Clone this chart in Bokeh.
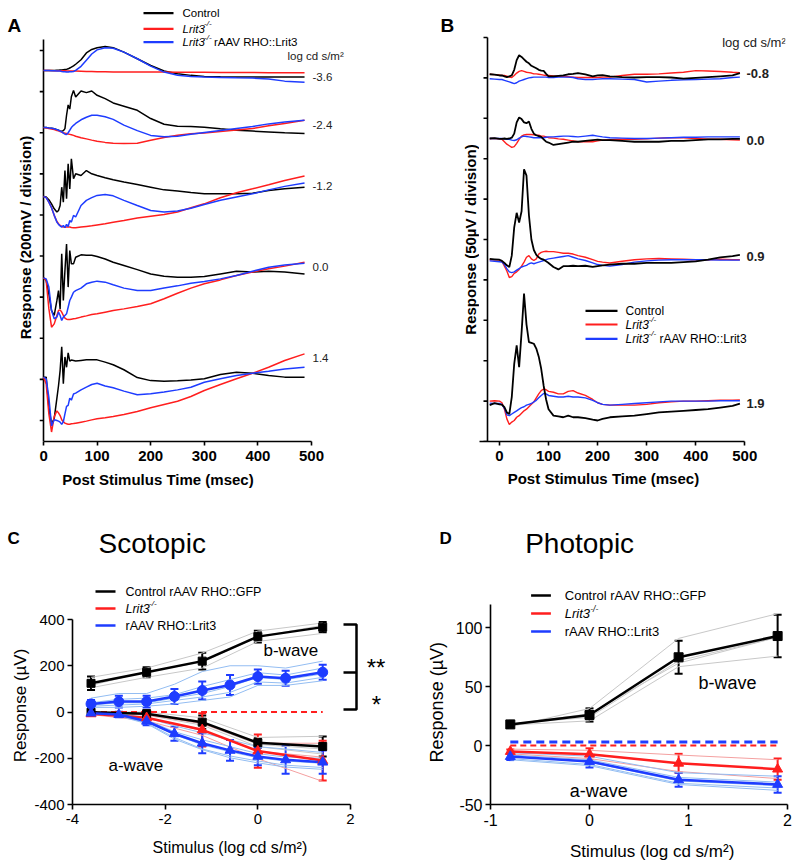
import numpy as np
from math import pi
from bokeh.plotting import figure
from bokeh.layouts import column, row
from bokeh.models import Range1d, FixedTicker, Whisker, ColumnDataSource, TeeHead
from bokeh.core.properties import value
from bokeh.embed import file_html
from bokeh.resources import INLINE

FONT = "Liberation Sans"
BLACK = "#000000"
RED = "#ff1e1e"
BLUE = "#1e3cff"
LGRAY = "#c8c8c8"
LBLUE = "#93bdf2"
LRED = "#f4a0a0"

# ---------------- Panel A: scotopic ERG traces (uV relative to each trace baseline) ----------------
A_time = [0, 5, 10, 15, 20, 25, 28, 31, 34, 37, 40, 43, 46, 49, 52, 56, 60, 70, 80, 90, 100, 115, 130,
          150, 175, 200, 225, 250, 275, 300, 330, 360, 390, 420, 450, 487]
A_levels = ["-3.6", "-2.4", "-1.2", "0.0", "1.4"]
A_baseline = [1703, 1425, 1090, 694, 209]
A_yticks = [0, 200, 400, 600, 800, 1000, 1200, 1400, 1600, 1800]
A_xticks = [0, 100, 200, 300, 400, 500]

A_ctrl_m36 = [0, 0, 0, 0, 0, 1, 1, 2, 2, 3, 4, 5, 8, 12, 16, 22, 30, 52, 85, 102, 110, 116, 111, 89, 57, 24, -3, -16, -24, -29, -31, -32, -32, -32, -32, -32]
A_lrit_m36 = [0, 0, 0, 0, -1, -1, -1, -2, -2, -2, -2, -3, -3, -3, -3, -3, -3, -4, -5, -5, -6, -6, -7, -7, -8, -8, -8, -9, -9, -9, -10, -10, -10, -11, -11, -11]
A_raav_m36 = [0, 0, 0, -2, -2, -3, -3, -3, -5, -6, -6, -8, -8, -6, -6, -5, 0, 20, 50, 80, 100, 110, 108, 89, 57, 21, -8, -23, -29, -32, -34, -36, -37, -42, -52, -57]

A_ctrl_m24 = [0, 0, -2, -3, -6, -10, -13, -16, -18, -15, -5, 60, 110, 90, 150, 181, 149, 178, 170, 178, 157, 141, 120, 104, 84, 44, 16, 6, 5, 2, -6, -13, -17, -21, -25, -29]
A_lrit_m24 = [0, -2, -4, -7, -10, -14, -16, -19, -22, -25, -27, -29, -31, -33, -35, -38, -42, -49, -55, -61, -66, -72, -76, -78, -76, -62, -48, -37, -30, -26, -19, -12, -5, 9, 20, 36]
A_raav_m24 = [0, 0, -2, -3, -6, -10, -13, -17, -21, -27, -32, -34, -25, -13, 0, 11, 20, 38, 50, 60, 60, 53, 40, 12, -15, -38, -45, -42, -33, -24, -14, -4, 5, 18, 27, 36]

A_ctrl_m12 = [0, -3, -16, -36, -60, -76, -68, -44, 45, -28, 126, -11, 159, 37, 183, 86, 110, 102, 126, 110, 102, 91, 81, 70, 58, 45, 32, 26, 19, 13, 13, 13, 16, 29, 37, 45]
A_lrit_m12 = [0, -6, -28, -55, -92, -122, -133, -141, -146, -149, -149, -149, -149, -149, -151, -152, -152, -149, -146, -143, -139, -133, -126, -117, -105, -96, -88, -76, -55, -36, -6, 18, 37, 57, 78, 99]
A_raav_m12 = [0, -6, -28, -55, -92, -125, -136, -143, -149, -141, -152, -136, -146, -117, -125, -92, -100, -44, -19, -6, 5, 10, 3, -19, -44, -68, -76, -71, -57, -39, -19, -3, 13, 32, 49, 65]

A_ctrl_0 = [0, -13, -78, -160, -183, -110, -62, -151, 117, -110, 36, 165, -45, 133, 68, 68, 100, 112, 110, 110, 104, 92, 76, 60, 40, 19, 8, 3, 3, 6, 19, 32, 28, 32, 28, 19]
A_lrit_0 = [0, -13, -150, -240, -224, -183, -159, -156, -167, -183, -196, -201, -203, -203, -201, -199, -198, -191, -185, -178, -175, -167, -159, -151, -139, -126, -102, -75, -50, -29, -10, 11, 28, 44, 57, 76]
A_raav_0 = [0, -5, -45, -159, -199, -191, -167, -183, -207, -191, -183, -175, -143, -110, -94, -70, -62, -50, -29, -21, -16, -21, -34, -50, -62, -62, -49, -39, -26, -18, -5, 11, 32, 52, 62, 71]

A_ctrl_14 = [2, 2, -144, -225, -200, -100, -40, 34, 150, -30, 100, 50, 120, 80, 85, 83, 80, 83, 86, 87, 86, 75, 62, 38, 0, -15, -18, -16, -12, -6, 15, 26, 21, 10, 2, 2]
A_lrit_14 = [2, -31, -177, -265, -190, -162, -172, -185, -205, -215, -222, -225, -227, -227, -225, -224, -222, -217, -212, -206, -201, -196, -190, -180, -165, -147, -131, -115, -92, -63, -34, -6, 21, 50, 83, 115]
A_raav_14 = [2, -6, -96, -235, -205, -209, -212, -217, -228, -215, -177, -140, -135, -100, -110, -80, -76, -60, -47, -34, -28, -41, -50, -66, -84, -79, -70, -60, -47, -23, -6, 10, 21, 31, 42, 50]

# ---------------- Panel B: photopic ERG traces (uV relative to each trace baseline) ----------------
B_time = [-20, -10, 0, 5, 10, 15, 20, 25, 30, 35, 40, 45, 50, 55, 60, 65, 70, 75, 80, 85, 90, 95, 100, 110,
          120, 130, 140, 150, 160, 175, 190, 200, 210, 225, 250, 275, 300, 325, 350, 375, 400, 425, 450, 475, 490]
B_levels = ["-0.8", "0.0", "0.9", "1.9"]
B_baseline = [452, 375, 225, 50]
B_yticks = [0, 50, 100, 150, 200, 250, 300, 350, 400, 450, 500]
B_xticks = [0, 100, 200, 300, 400, 500]

B_ctrl_m08 = [2.5, 2, 1, 1, 0, -1, 0, 1, 8, 20, 26, 24, 21, 18, 16, 13, 11.5, 10, 8, 7, 6.6, 3, 0, 0, 0.5, 1, 2.5, 3, 4, 2.5, 0, 1, 1.5, 0, -1, -1.5, -1, -1, -1.5, -3, -2, -1, 0, 1, 4]
B_lrit_m08 = [2.5, 2, 1.5, 1, 1, 0, -1, -1.5, 1, 4, 6, 7, 6, 5, 4.5, 4, 3, 3, 2.5, 2, 1.5, 1, 1, 0.5, 0, 0, -0.5, -1, -1.5, -1.5, -1.5, -1.5, -1, -1, 1, 2.5, 2.5, 3, 4, 5, 7, 6.5, 6, 5, 4.5]
B_raav_m08 = [-3, -3.5, -4, -4, -5, -6, -7, -8, -9, -8, -6, -5, -4, -3, -2, -1.5, -1, -1, -1, -1, -1, -1, -1.5, -1.5, -1, -1, -1, -1.5, -3, -4, -4, -3.5, -3, -3, -3.5, -4, -7, -6, -5, -4.5, -4, -3.5, -3, -1.5, -1]

B_ctrl_0 = [0, 0.5, -0.5, -0.5, 0, -0.5, 0, 1, 6, 20, 26, 24, 20, 19, 21, 12, 6, 4, 3, 2, -1, -4, -5, -8, -7, -6, -5, -4, -4, -3, -2, -1.5, -2, -2, -3, -4, -4, -4, -3, -3, -2, -1, -1, -0.5, -0.5]
B_lrit_0 = [0, 0, -0.5, -1, -4, -7, -9, -11, -10, -6, -1, 3, 4.5, 5, 5, 5, 4.5, 4, 4, 3, 3, 2, 1, 0.5, -0.5, -1, -2, -3, -4, -4, -4, -3, -2, -1.5, -1, -1, -0.5, 0.5, 1, 1, 0, -1, -1, -1.5, -2]
B_raav_0 = [0, 0, 0, 0, -0.5, -1, -1, -2, -2.5, -1.5, 0.5, 2, 3, 2.5, 2, 1.5, 1, 1, 1, 1, 1, 1.5, 2, 2, 2.5, 3, 3, 2.5, 2, 3, 4, 3, 2, 1, 0.5, 0, 0, 0.5, 1, 1.5, 1.5, 2, 2, 2, 2]

B_ctrl_09 = [1, 0.5, 0, -1.5, -4, -7, -9, 5, 40, 58, 46, 60, 112, 104, 55, 25, 12, 6, 3, 1, 0, -2, -4, -9, -12, -8, -8, -7.5, -8, -7.5, -9, -8, -7, -6, -5, -5, -4, -4, -4, -3, -2, 0, 3, 4.5, 6]
B_lrit_09 = [0, 0, -0.5, -2, -8, -14, -22, -21, -17, -15, -12, -8, -3, 3, 5, 1, -1, 1, 7, 9, 10, 10.5, 10, 10, 9, 8, 8, 7, 5, 3, 0, -2, -3, -4, -2, 0, 1, 1.5, 1, 0.5, 0, 0, 0.5, 0, 0]
B_raav_09 = [-1.5, -2, -2.5, -3, -6, -11, -15, -16, -15, -13, -11, -9, -8, -7, -5, -4, -5, -4, -3, -2, -1, 0, 1, 2, 3, 4, 5, 3, 1, -1, -4, -6, -7, -8, -6, -3, -1.5, -0.5, 0, 0, 0, 0, -0.5, -0.5, -0.5]

B_ctrl_19 = [-5, -2.5, -4, -4.5, -7.5, -14, -16, 5, 46, 69, 42, 85, 133, 95, 73, 72, 71, 65, 55, 40, 19, 2, -10, -18, -19, -20, -18, -20, -20, -21, -23, -24, -22, -20, -19, -18, -16, -14, -13, -12, -11, -10, -8, -6, -3]
B_lrit_19 = [0, 0.5, 0, -2, -10, -22, -29, -26, -24, -20, -18, -15, -12, -10, -7, -4, -1, 4, 9, 13, 15, 14, 12, 11, 9, 9, 12, 13, 10, 7, 2, -2, -4, -5, -5, -5, -4, -2, -1, 0, 0, 0.5, 1, 1, 1.5]
B_raav_19 = [-2.5, -3, -3, -4, -9, -17, -18, -16, -14, -12, -10, -8, -7, -5, -4, -3, -1, 1, 4, 7, 9.5, 9, 7, 6, 5, 5, 6, 5, 5, 4, 1, -2, -4, -5, -4, -3, -2, -1, 0, 0, 0, 0, 0.5, 0.5, 0.5]

# ---------------- Panel C: scotopic intensity-response ----------------
C_x5 = [-3.6, -2.4, -1.2, 0.0, 1.4]
C_x9 = [-3.6, -3.0, -2.4, -1.8, -1.2, -0.6, 0.0, 0.6, 1.4]
C_xticks = [-4, -2, 0, 2]
C_yticks = [-400, -200, 0, 200, 400]
C_ctrl_b = [124, 172, 220, 326, 367]
C_ctrl_b_sem = [29, 22, 36, 25, 22]
C_ctrl_a = [-1, -8, -44, -133, -149]
C_ctrl_a_sem = [5, 16, 29, 20, 43]
C_lrit_b = [0, 0, 0, 0, 0]
C_lrit_a = [-8, -25, -77, -169, -210]
C_lrit_a_sem = [4, 22, 72, 72, 86]
C_raav_b = [35, 45, 45, 67, 93, 117, 153, 146, 172]
C_raav_b_sem = [17, 25, 25, 32, 39, 43, 31, 32, 32]
C_raav_a = [-5, -11, -40, -94, -135, -166, -192, -207, -217]
C_raav_a_sem = [5, 12, 17, 30, 43, 45, 38, 60, 50]
C_ctrl_b_each = [[150, 190, 255, 350, 385], [115, 175, 215, 325, 375], [105, 150, 190, 305, 340]]
C_ctrl_a_each = [[0, 0, -25, -110, -105], [-1, -10, -50, -140, -160], [-2, -14, -57, -150, -182]]
C_lrit_a_each = [[-5, -12, -50, -135, -135], [-8, -25, -80, -170, -195], [-11, -38, -101, -202, -300]]
C_raav_b_each = [[60, 80, 80, 120, 175, 200, 200, 190, 220],
                 [40, 55, 60, 75, 110, 140, 170, 160, 190],
                 [30, 40, 40, 60, 80, 110, 150, 140, 165],
                 [25, 30, 35, 50, 65, 85, 130, 125, 150],
                 [20, 20, 25, 35, 50, 65, 115, 115, 135]]
C_raav_a_each = [[-2, -5, -25, -60, -90, -120, -150, -160, -175],
                 [-3, -8, -35, -85, -120, -150, -180, -195, -200],
                 [-5, -10, -42, -98, -142, -172, -198, -212, -222],
                 [-6, -14, -48, -110, -160, -190, -212, -230, -240],
                 [-9, -18, -50, -117, -163, -198, -220, -238, -248]]

# ---------------- Panel D: photopic intensity-response ----------------
D_x = [-0.8, 0.0, 0.9, 1.9]
D_xticks = [-1, 0, 1, 2]
D_yticks = [-50, 0, 50, 100]
D_ctrl_b = [18, 26, 75, 93]
D_ctrl_b_sem = [1, 5.6, 14, 18]
D_lrit_b = [0, 0, 0, 0]
D_raav_b = [3, 3, 3, 3]
D_lrit_a = [-5, -7.3, -15, -20]
D_lrit_a_sem = [1.7, 5, 8, 9]
D_raav_a = [-9.3, -13.5, -29, -33]
D_raav_a_sem = [3, 5, 6, 7]
D_ctrl_b_each = [[16, 31.5, 91, 112], [17.5, 21, 67, 76], [18, 27, 70, 92], [18.5, 24, 72, 92]]
D_lrit_a_each = [[-3, -4, -8, -12], [-5, -7, -15, -20], [-7, -11, -22, -28]]
D_raav_a_each = [[-6, -9, -23, -26], [-8, -12, -27, -31], [-9, -14, -30, -34], [-11, -16, -32, -36], [-12, -17, -33, -38]]


# ---------------- helpers ----------------
def lin(p0, v0, p1, v1):
    k = (v1 - v0) / (p1 - p0)
    return lambda px: v0 + (px - p0) * k


def make_fig(ox, oy, W, H, L, R, T, B, xv, yv, yaxis=True):
    kw = {} if yaxis else {"y_axis_location": None}
    p = figure(width=W, height=H, x_range=Range1d(xv(L), xv(R)), y_range=Range1d(yv(B), yv(T)),
               min_border_left=int(round(L - ox)), min_border_right=int(round(ox + W - R)),
               min_border_top=int(round(T - oy)), min_border_bottom=int(round(oy + H - B)),
               output_backend="svg", toolbar_location=None, title=None, **kw)
    p.outline_line_color = None
    p.grid.visible = False
    p.background_fill_color = "white"
    p.border_fill_color = "white"
    return p


def gutter(x0, x1, y0, y1):
    # blank strip whose data units are page pixels (y measured downward as negative values)
    g = figure(width=x1 - x0, height=y1 - y0, x_range=Range1d(x0, x1), y_range=Range1d(-y1, -y0),
               min_border_left=0, min_border_right=0, min_border_top=0, min_border_bottom=0,
               x_axis_location=None, y_axis_location=None,
               output_backend="svg", toolbar_location=None, title=None)
    g.outline_line_color = None
    g.grid.visible = False
    g.grid.grid_line_color = None
    g.background_fill_color = "white"
    g.border_fill_color = "white"
    return g


def style_axis(ax, ticks, bounds, size, bold, tick_out=4, standoff=4):
    ticks = list(ticks)
    ax.ticker = FixedTicker(ticks=ticks)
    ax.bounds = bounds
    ax.major_label_text_font = FONT
    ax.major_label_text_font_size = size
    ax.major_label_text_font_style = "bold" if bold else "normal"
    ax.major_label_text_color = "black"
    ax.major_label_standoff = standoff
    ax.major_label_overrides = {t: ("%g" % t) for t in ticks}
    ax.major_tick_out = tick_out
    ax.major_tick_in = 0
    ax.minor_tick_line_color = None
    ax.axis_line_width = 1.6
    ax.major_tick_line_width = 1.6
    ax.axis_line_color = "black"
    ax.major_tick_line_color = "black"


def txt(p, x, y, s, size, style="normal", align="left", baseline="middle", color="black", xo=0, yo=0, angle=0):
    p.text(x=[x], y=[y], text=[s], text_font=value(FONT), text_font_size=value(size),
           text_font_style=value(style), text_align=align, text_baseline=baseline,
           text_color=color, x_offset=xo, y_offset=yo, angle=angle)


def gtxt(g, x, y, s, size, style="normal", align="left", baseline="alphabetic", angle=0):
    txt(g, x, -y, s, size, style=style, align=align, baseline=baseline, angle=angle)


def errbars(p, x, m, e, color, head=8, lw=2):
    src = ColumnDataSource(dict(x=x, lo=[a - b for a, b in zip(m, e)], hi=[a + b for a, b in zip(m, e)]))
    p.add_layout(Whisker(source=src, base="x", lower="lo", upper="hi", line_color=color, line_width=lw,
                         lower_head=TeeHead(size=head, line_color=color, line_width=lw),
                         upper_head=TeeHead(size=head, line_color=color, line_width=lw)))


def legend_rows(p, xv, yv, x0, x1, xt, rows, size, lrit_w, sup_size, extra_w, lw=2):
    for ypx, col, kind in rows:
        p.line([xv(x0), xv(x1)], [yv(ypx), yv(ypx)], line_color=col, line_width=lw)
        X, Y = xv(xt), yv(ypx)
        if kind == "ctrl":
            txt(p, X, Y, "Control", size)
        elif kind == "ctrl_gfp":
            txt(p, X, Y, "Control rAAV RHO::GFP", size)
        elif kind == "raav":
            txt(p, X, Y, "rAAV RHO::Lrit3", size)
        else:
            txt(p, X, Y, "Lrit3", size, style="italic")
            txt(p, X, Y, "-/-", sup_size, style="italic", xo=lrit_w, yo=-5)
            if kind == "lrit_raav":
                txt(p, X, Y, "rAAV RHO::Lrit3", size, xo=extra_w)


def manual_yaxis(p, x_axis, x_tick_end, y0, y1, ticks):
    p.line([x_axis, x_axis], [y0, y1], line_color=BLACK, line_width=1.6)
    p.segment(x0=[x_axis] * len(ticks), y0=ticks, x1=[x_tick_end] * len(ticks), y1=ticks,
              line_color=BLACK, line_width=1.6)


# ================= Panel A =================
A_xv = lin(43, 0, 311, 500)
A_yv = lin(420, 0, 50, 1800)
pA = make_fig(39, 0, 361, 468, 39, 350, 0, 441, A_xv, A_yv, yaxis=False)
style_axis(pA.xaxis[0], A_xticks, (0, 500), "15px", True, tick_out=4, standoff=5)
manual_yaxis(pA, 0, A_xv(39), A_yv(441), A_yv(39), A_yticks)

tA = np.array(A_time, dtype=float)
A_ctrl = [A_ctrl_m36, A_ctrl_m24, A_ctrl_m12, A_ctrl_0, A_ctrl_14]
A_lrit = [A_lrit_m36, A_lrit_m24, A_lrit_m12, A_lrit_0, A_lrit_14]
A_raav = [A_raav_m36, A_raav_m24, A_raav_m12, A_raav_0, A_raav_14]
for base, c, r, b in zip(A_baseline, A_ctrl, A_lrit, A_raav):
    pA.line(tA, base + np.array(c, dtype=float), line_color=BLACK, line_width=1.5)
    pA.line(tA, base + np.array(r, dtype=float), line_color=RED, line_width=1.5)
    pA.line(tA, base + np.array(b, dtype=float), line_color=BLUE, line_width=1.5)

for lev, ypx in zip(A_levels, [76, 124, 185, 266.7, 357.7]):
    txt(pA, A_xv(312), A_yv(ypx), lev, "11.5px", color="#222222")
txt(pA, A_xv(287), A_yv(55.5), "log cd s/m\u00b2", "11.5px", color="#222222")
legend_rows(pA, A_xv, A_yv, 143, 173, 182,
            [(12.7, BLACK, "ctrl"), (28.3, RED, "lrit"), (41.7, BLUE, "lrit_raav")],
            "11.5px", 21.5, "8px", 31.5, lw=2.2)

gA = gutter(0, 39, 0, 488)
gtxt(gA, 7, 25, "A", "19px", "bold")
gtxt(gA, 25, 237, "Response (200mV / division)", "15px", "bold", "center", "middle", pi / 2)
gAx = gutter(39, 400, 468, 488)
gtxt(gAx, 176.5, 478.5, "Post Stimulus Time (msec)", "15px", "bold", "center", "middle")

# ================= Panel B =================
B_xv = lin(499, 0, 744.3, 500)
B_yv = lin(441, 0, 37, 500)
pB = make_fig(479, 0, 321, 468, 479, 785, 0, 441, B_xv, B_yv, yaxis=False)
style_axis(pB.xaxis[0], B_xticks, (B_xv(479), 500), "15px", True, tick_out=4, standoff=5)
manual_yaxis(pB, B_xv(487), B_xv(483), 0, 500, B_yticks)

tB = np.array(B_time, dtype=float)
B_ctrl = [B_ctrl_m08, B_ctrl_0, B_ctrl_09, B_ctrl_19]
B_lrit = [B_lrit_m08, B_lrit_0, B_lrit_09, B_lrit_19]
B_raav = [B_raav_m08, B_raav_0, B_raav_09, B_raav_19]
for base, c, r, b in zip(B_baseline, B_ctrl, B_lrit, B_raav):
    pB.line(tB, base + np.array(r, dtype=float), line_color=RED, line_width=1.4)
    pB.line(tB, base + np.array(b, dtype=float), line_color=BLUE, line_width=1.4)
    pB.line(tB, base + np.array(c, dtype=float), line_color=BLACK, line_width=1.8)

for lev, ypx in zip(B_levels, [73, 140, 256, 402.5]):
    txt(pB, B_xv(746), B_yv(ypx), lev, "13px", style="bold", color="#222222")
txt(pB, B_xv(721.7), B_yv(41.7), "log cd s/m\u00b2", "13px", color="#222222")
legend_rows(pB, B_xv, B_yv, 585, 617, 625,
            [(310.3, BLACK, "ctrl"), (324, RED, "lrit"), (338.3, BLUE, "lrit_raav")],
            "12px", 23, "8px", 34, lw=2.2)

gB = gutter(400, 479, 0, 488)
gtxt(gB, 440, 25, "B", "19px", "bold")
gtxt(gB, 469.5, 239, "Response (50\u00b5V / division)", "15px", "bold", "center", "middle", pi / 2)
gBx = gutter(479, 800, 468, 488)
gtxt(gBx, 609, 477.5, "Post Stimulus Time (msec)", "15px", "bold", "center", "middle")

# ================= Panel C =================
C_xv = lin(72, -4, 350, 2)
C_yv = lin(804, -400, 619, 400)
pC = make_fig(30, 488, 370, 345, 72, 392, 498, 804, C_xv, C_yv)
style_axis(pC.xaxis[0], C_xticks, (-4, 2), "15px", False, tick_out=5, standoff=4)
style_axis(pC.yaxis[0], C_yticks, (-400, 400), "15px", False, tick_out=5, standoff=3)

for ys in C_ctrl_b_each + C_ctrl_a_each:
    pC.line(C_x5, ys, line_color=LGRAY, line_width=1)
for ys in C_lrit_a_each:
    pC.line(C_x5, ys, line_color=LRED, line_width=1)
for ys in C_raav_b_each + C_raav_a_each:
    pC.line(C_x9, ys, line_color=LBLUE, line_width=1)
pC.line(C_x5, C_lrit_b, line_color=RED, line_width=2, line_dash="6 4")

pC.line(C_x5, C_ctrl_b, line_color=BLACK, line_width=2.5)
pC.line(C_x5, C_ctrl_a, line_color=BLACK, line_width=2.5)
pC.line(C_x5, C_lrit_a, line_color=RED, line_width=2.5)
pC.line(C_x9, C_raav_b, line_color=BLUE, line_width=2.5)
pC.line(C_x9, C_raav_a, line_color=BLUE, line_width=2.5)
errbars(pC, C_x5, C_ctrl_b, C_ctrl_b_sem, BLACK)
errbars(pC, C_x5, C_ctrl_a, C_ctrl_a_sem, BLACK)
errbars(pC, C_x5, C_lrit_a, C_lrit_a_sem, RED)
errbars(pC, C_x9, C_raav_b, C_raav_b_sem, BLUE)
errbars(pC, C_x9, C_raav_a, C_raav_a_sem, BLUE)
pC.scatter(C_x5, C_ctrl_b, marker="square", size=8, color=BLACK)
pC.scatter(C_x5, C_ctrl_a, marker="square", size=8, color=BLACK)
pC.scatter(C_x5, C_lrit_a, marker="triangle", size=10, color=RED)
pC.scatter(C_x9, C_raav_b, marker="circle", size=10, color=BLUE)
pC.scatter(C_x9, C_raav_a, marker="triangle", size=10, color=BLUE)

# significance bracket
pC.line([C_xv(343), C_xv(356), C_xv(356), C_xv(343)], [C_yv(624), C_yv(624), C_yv(709), C_yv(709)],
        line_color=BLACK, line_width=2.5)
pC.line([C_xv(343), C_xv(356)], [C_yv(672), C_yv(672)], line_color=BLACK, line_width=2.5)
txt(pC, C_xv(375.5), C_yv(667), "**", "24px", align="center", baseline="alphabetic")
txt(pC, C_xv(376), C_yv(704), "*", "24px", align="center", baseline="alphabetic")

txt(pC, C_xv(98), C_yv(543), "Scotopic", "28px", baseline="alphabetic")
txt(pC, C_xv(263), C_yv(650), "b-wave", "17px")
txt(pC, C_xv(108), C_yv(765), "a-wave", "17px")
legend_rows(pC, C_xv, C_yv, 95, 115, 125,
            [(591, BLACK, "ctrl_gfp"), (608, RED, "lrit"), (625, BLUE, "raav")],
            "12.5px", 23.5, "8px", 34, lw=2.5)

gC = gutter(0, 30, 488, 867)
gtxt(gC, 7, 538, "C", "17px", "bold")
gtxt(gC, 20, 705, "Response (\u00b5V)", "17px", "normal", "center", "middle", pi / 2)
gCx = gutter(30, 400, 833, 867)
gtxt(gCx, 212, 847, "Stimulus (log cd s/m\u00b2)", "16px", "normal", "center", "middle")

# ================= Panel D =================
D_xv = lin(487, -1, 787, 2)
D_yv = lin(804, -50, 627.3, 100)
pD = make_fig(452, 488, 348, 345, 487, 790, 498, 804, D_xv, D_yv)
style_axis(pD.xaxis[0], D_xticks, (-1, 2), "16px", False, tick_out=5, standoff=4)
style_axis(pD.yaxis[0], D_yticks, (-50, D_yv(604)), "16px", False, tick_out=5, standoff=3)

for ys in D_ctrl_b_each:
    pD.line(D_x, ys, line_color=LGRAY, line_width=1)
for ys in D_lrit_a_each:
    pD.line(D_x, ys, line_color=LRED, line_width=1)
for ys in D_raav_a_each:
    pD.line(D_x, ys, line_color=LBLUE, line_width=1)
pD.line(D_x, D_lrit_b, line_color=RED, line_width=2, line_dash="6 4")
pD.line(D_x, D_raav_b, line_color=BLUE, line_width=3, line_dash="8 5")

pD.line(D_x, D_ctrl_b, line_color=BLACK, line_width=2.5)
pD.line(D_x, D_lrit_a, line_color=RED, line_width=2.5)
pD.line(D_x, D_raav_a, line_color=BLUE, line_width=2.5)
errbars(pD, D_x, D_ctrl_b, D_ctrl_b_sem, BLACK)
errbars(pD, D_x, D_lrit_a, D_lrit_a_sem, RED)
errbars(pD, D_x, D_raav_a, D_raav_a_sem, BLUE)
pD.scatter(D_x, D_ctrl_b, marker="square", size=9, color=BLACK)
pD.scatter(D_x, D_lrit_a, marker="triangle", size=10, color=RED)
pD.scatter(D_x, D_raav_a, marker="triangle", size=10, color=BLUE)

txt(pD, D_xv(522), D_yv(543), "Photopic", "28px", baseline="alphabetic")
txt(pD, D_xv(697), D_yv(682), "b-wave", "18px")
txt(pD, D_xv(567), D_yv(790), "a-wave", "18px")
legend_rows(pD, D_xv, D_yv, 528, 548, 562,
            [(595, BLACK, "ctrl_gfp"), (613, RED, "lrit"), (631, BLUE, "raav")],
            "13px", 25.5, "8.5px", 36, lw=2.5)

gD = gutter(400, 452, 488, 867)
gtxt(gD, 439, 538, "D", "17px", "bold")
gtxt(gD, 436.5, 701.7, "Response (\u00b5V)", "18px", "normal", "center", "middle", pi / 2)
gDx = gutter(452, 800, 833, 867)
gtxt(gDx, 639.5, 851, "Stimulus (log cd s/m\u00b2)", "17px", "normal", "center", "middle")

layout = column(
    row(gA, column(pA, gAx), gB, column(pB, gBx)),
    row(gC, column(pC, gCx), gD, column(pD, gDx)),
)
open("out.html", "w").write(file_html(layout, INLINE))
